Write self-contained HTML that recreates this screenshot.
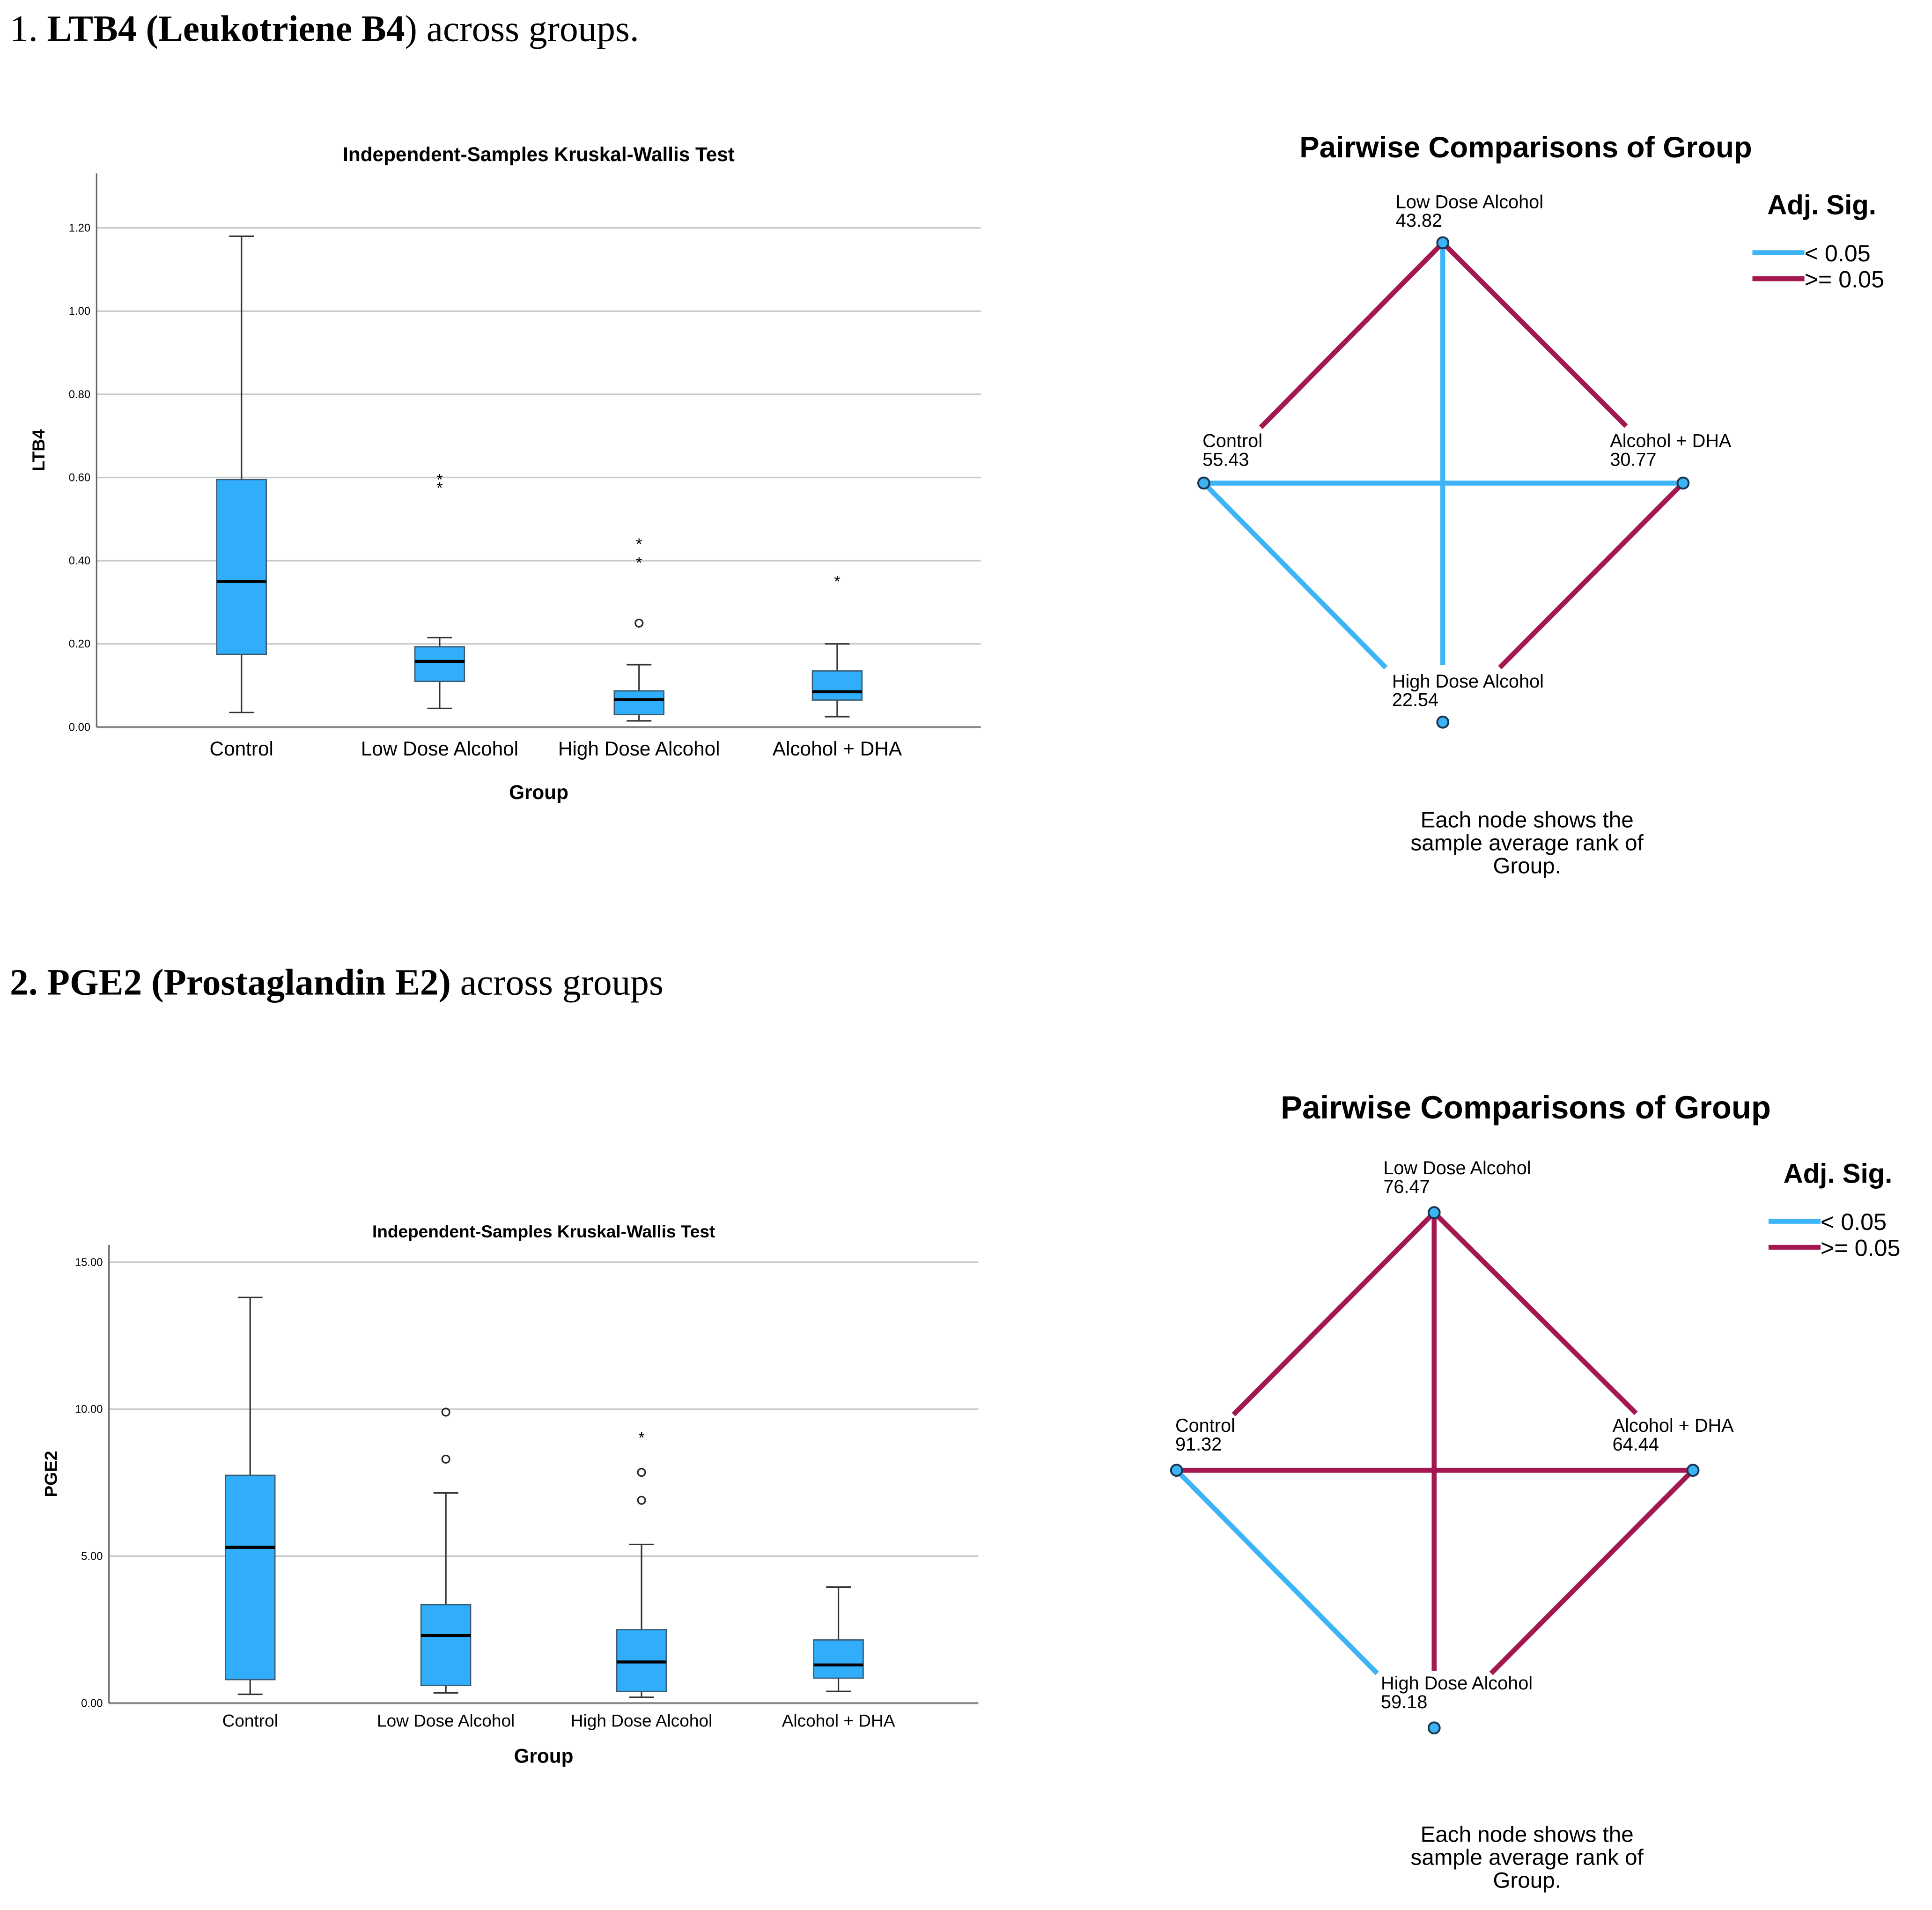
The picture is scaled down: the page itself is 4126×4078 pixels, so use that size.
<!DOCTYPE html>
<html><head><meta charset="utf-8"><style>
html,body{margin:0;padding:0;background:#fff}
svg{display:block}
text{font-family:"Liberation Sans","DejaVu Sans",sans-serif}
.serif{font-family:"Liberation Serif",serif}
</style></head><body>
<svg id="root" width="4126" height="4078" viewBox="0 0 1560 1542" preserveAspectRatio="none" xmlns="http://www.w3.org/2000/svg">
<rect width="1560" height="1542" fill="#fff"/>
<text class="serif" x="8" y="33" font-size="30">1. <tspan font-weight="bold">LTB4 (Leukotriene B4</tspan>) across groups.</text>
<text class="serif" x="8" y="803" font-size="30"><tspan font-weight="bold">2. PGE2 (Prostaglandin E2)</tspan> across groups</text>
<g id="c1"></g><g id="c2"></g><g id="n1"></g><g id="n2"></g>
</svg>
<script>
const NS='http://www.w3.org/2000/svg';
const groups=['Control','Low Dose Alcohol','High Dose Alcohol','Alcohol + DHA'];
// LTB4 box stats
const ltbMin=[0.035,0.045,0.015,0.025];
const ltbQ1=[0.175,0.11,0.03,0.065];
const ltbMed=[0.35,0.158,0.066,0.085];
const ltbQ3=[0.595,0.193,0.087,0.135];
const ltbMax=[1.18,0.215,0.15,0.20];
const ltbCircles=[[],[],[0.25],[]];
const ltbStars=[[],[0.60,0.58],[0.40,0.445],[0.355]];
const ltbTicks=[0,0.2,0.4,0.6,0.8,1.0,1.2];
// PGE2 box stats
const pgeMin=[0.3,0.35,0.2,0.4];
const pgeQ1=[0.8,0.6,0.4,0.85];
const pgeMed=[5.3,2.3,1.4,1.3];
const pgeQ3=[7.75,3.35,2.5,2.15];
const pgeMax=[13.8,7.15,5.4,3.95];
const pgeCircles=[[],[9.9,8.3],[6.9,7.85],[]];
const pgeStars=[[],[],[9.1],[]];
const pgeTicks=[0,5,10,15];
// pairwise mean ranks
const ltbRanks=[55.43,43.82,22.54,30.77];
const pgeRanks=[91.32,76.47,59.18,64.44];
const ltbSig=[['Control','Low Dose Alcohol',false],['Low Dose Alcohol','Alcohol + DHA',false],['Low Dose Alcohol','High Dose Alcohol',true],['Control','Alcohol + DHA',true],['Control','High Dose Alcohol',true],['High Dose Alcohol','Alcohol + DHA',false]];
const pgeSig=[['Control','Low Dose Alcohol',false],['Low Dose Alcohol','Alcohol + DHA',false],['Low Dose Alcohol','High Dose Alcohol',false],['Control','Alcohol + DHA',false],['Control','High Dose Alcohol',true],['High Dose Alcohol','Alcohol + DHA',false]];

function mk(p,tag,a,txt){const e=document.createElementNS(NS,tag);for(const k in a)e.setAttribute(k,a[k]);if(txt!=null)e.textContent=txt;p.appendChild(e);return e;}

function box(gid,o){
 const g=document.getElementById(gid);
 const y=v=>o.y0-(v-o.vmin)/(o.vmax-o.vmin)*(o.y0-o.y1);
 const x=i=>o.cx[i];
 const t=mk(g,'text',{x:(o.xl+o.xr)/2,y:o.ty,'font-size':o.tfs,'font-weight':'bold','text-anchor':'middle'},'Independent-Samples Kruskal-Wallis Test');
 
 o.ticks.forEach(v=>{
  const l=mk(g,'line',{x1:o.xl,x2:o.xr,y1:y(v),y2:y(v),stroke:v===0?'#888':'#c8c8c8','stroke-width':v===0?1.6:1.2});
  
  const tt=mk(g,'text',{x:o.xl-5,y:y(v)+3,'font-size':9,'text-anchor':'end'},v.toFixed(2));
  
 });
 const ax=mk(g,'line',{x1:o.xl,x2:o.xl,y1:o.axTop,y2:y(0),stroke:'#666','stroke-width':1.2});
 
 const yt=mk(g,'text',{transform:`translate(${o.xl-42},${(o.axTop+y(0))/2}) rotate(-90)`,'font-size':14,'font-weight':'bold','text-anchor':'middle'},o.ylab);
 
 const xt=mk(g,'text',{x:(o.xl+o.xr)/2,y:o.xty,'font-size':16,'font-weight':'bold','text-anchor':'middle'},'Group');
 
 groups.forEach((n,i)=>{
  const lb=mk(g,'text',{x:x(i),y:o.xly,'font-size':o.xlfs,'text-anchor':'middle'},n);
  
  const w=o.bw,c=x(i);
  const wh=mk(g,'path',{d:`M${c},${y(o.min[i])}V${y(o.q1[i])}M${c},${y(o.q3[i])}V${y(o.max[i])}M${c-10},${y(o.min[i])}H${c+10}M${c-10},${y(o.max[i])}H${c+10}`,stroke:'#333','stroke-width':1.2,fill:'none'});
  
  const r=mk(g,'rect',{x:c-w/2,y:y(o.q3[i]),width:w,height:y(o.q1[i])-y(o.q3[i]),fill:'#30aefc',stroke:'#3a5a70','stroke-width':1});
  
  const m=mk(g,'line',{x1:c-w/2,x2:c+w/2,y1:y(o.med[i]),y2:y(o.med[i]),stroke:'#000','stroke-width':2.4});
  
  o.circ[i].forEach(v=>{const e=mk(g,'circle',{cx:c,cy:y(v),r:3,fill:'none',stroke:'#222','stroke-width':1.2});
   });
  o.star[i].forEach(v=>{const e=mk(g,'text',{x:c,y:y(v)+6,'font-size':13,'text-anchor':'middle'},'*');
   });
 });
}
box('c1',{vmin:0,vmax:1.2,y0:587,y1:184,xl:78,xr:792,axTop:140,cx:[195,355,516,676],bw:40,ticks:ltbTicks,ylab:'LTB4',ty:130,tfs:16,xty:645,xly:610,xlfs:16,min:ltbMin,q1:ltbQ1,med:ltbMed,q3:ltbQ3,max:ltbMax,circ:ltbCircles,star:ltbStars});
box('c2',{vmin:0,vmax:15,y0:1375,y1:1019,xl:88,xr:790,axTop:1005,cx:[202,360,518,677],bw:40,ticks:pgeTicks,ylab:'PGE2',ty:999,tfs:14,xty:1423,xly:1394,xlfs:14,min:pgeMin,q1:pgeQ1,med:pgeMed,q3:pgeQ3,max:pgeMax,circ:pgeCircles,star:pgeStars});

function net(gid,o){
 const g=document.getElementById(gid);
 const t=mk(g,'text',{x:o.tx,y:o.ty,'font-size':o.tfs,'font-weight':'bold','text-anchor':'middle'},'Pairwise Comparisons of Group');
 
 const P={'Control':o.L,'Low Dose Alcohol':o.T,'High Dose Alcohol':o.B,'Alcohol + DHA':o.R};
 o.sig.forEach(([a,b,s])=>{
  let A=P[a],B=P[b];
  let x1=A[0],y1=A[1],x2=B[0],y2=B[1];
  if(a==='Control'&&b==='Low Dose Alcohol'){x1=A[0]+46;y1=A[1]-45;}
  if(a==='Low Dose Alcohol'&&b==='Alcohol + DHA'){x2=B[0]-46;y2=B[1]-46;}
  if(b==='High Dose Alcohol'){ if(a==='Control'){x2=B[0]-46;y2=B[1]-44;} else {y2=B[1]-46;} }
  if(a==='High Dose Alcohol'){x1=A[0]+46;y1=A[1]-44;}
  const l=mk(g,'line',{x1,y1,x2,y2,stroke:s?'#3cb4f5':'#a31850','stroke-width':4});
  
 });
 groups.forEach((n,i)=>{
  const p=P[n];
  const c=mk(g,'circle',{cx:p[0],cy:p[1],r:4.5,fill:'#3cb4f5',stroke:'#1a3550','stroke-width':1.5});
  
  const lp=o.lab[i];
  const a=mk(g,'text',{x:lp[0],y:lp[1],'font-size':15},n);
  
  const b=mk(g,'text',{x:lp[0],y:lp[1]+15,'font-size':15},o.ranks[i].toFixed(2));
  
 });
 const lg=o.lg;
 const lt=mk(g,'text',{x:lg[0]+12,y:lg[1],'font-size':22,'font-weight':'bold'},'Adj. Sig.');
 
 [['< 0.05','#3cb4f5'],['>= 0.05','#a31850']].forEach((e,k)=>{
  const yy=lg[1]+31+k*21;
  const ln=mk(g,'line',{x1:lg[0],x2:lg[0]+42,y1:yy,y2:yy,stroke:e[1],'stroke-width':4});
  
  const tx=mk(g,'text',{x:lg[0]+42,y:yy+7,'font-size':19},e[0]);
  
 });
 ['Each node shows the','sample average rank of','Group.'].forEach((s,k)=>{
  const f=mk(g,'text',{x:o.fx,y:o.fy+k*18.5,'font-size':18,'text-anchor':'middle'},s);
  
 });
}
net('n1',{tx:1232,ty:127,tfs:24,L:[972,390],T:[1165,196],B:[1165,583],R:[1359,390],sig:ltbSig,ranks:ltbRanks,
 lab:[[971,361],[1127,168],[1124,555],[1300,361]],lg:[1415,173],fx:1233,fy:668});
net('n2',{tx:1232,ty:903,tfs:26,L:[950,1187],T:[1158,979],B:[1158,1395],R:[1367,1187],sig:pgeSig,ranks:pgeRanks,
 lab:[[949,1156],[1117,948],[1115,1364],[1302,1156]],lg:[1428,955],fx:1233,fy:1487});
</script>
</body></html>
